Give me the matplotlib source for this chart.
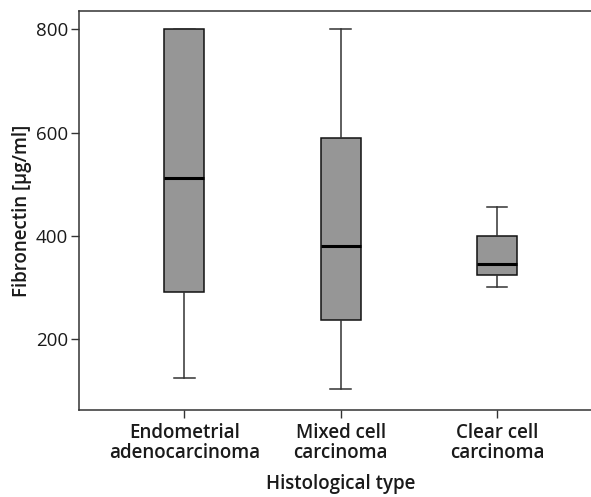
import matplotlib
matplotlib.use("Agg")
import matplotlib.pyplot as plt

categories = ["Endometrial\nadenocarcinoma", "Mixed cell\ncarcinoma", "Clear cell\ncarcinoma"]
whislo = [125, 104, 301]
q1 = [291, 237, 324]
med = [512, 380, 346]
q3 = [800, 589, 400]
whishi = [800, 801, 455]

plt.rcParams['font.family'] = ['Open Sans', 'DejaVu Sans']

fig = plt.figure(figsize=(5.91, 4.97), dpi=100)
ax = fig.add_axes([79.3 / 591, 86.7 / 497, (602 - 79.3) / 591, (410.3 - 10.7) / 497])

stats = []
for i in range(len(categories)):
    stats.append(dict(whislo=whislo[i], q1=q1[i], med=med[i], q3=q3[i],
                      whishi=whishi[i], fliers=[], label=categories[i]))

ax.bxp(stats, positions=[0, 1, 2], widths=0.256, capwidths=0.132,
       patch_artist=True, showfliers=False,
       boxprops=dict(facecolor='#969696', edgecolor='#111111', linewidth=1.1),
       medianprops=dict(color='#000000', linewidth=2.2),
       whiskerprops=dict(color='#333333', linewidth=1.1),
       capprops=dict(color='#333333', linewidth=1.1))

ax.set_xlim(-0.672, 2.672)
ax.set_ylim(62, 836)
ax.set_yticks([200, 400, 600, 800])
ax.set_xticks([0, 1, 2])
ax.set_xticklabels(categories, fontsize=13.5, fontweight='semibold', color='#1a1a1a',
                   linespacing=1.0)
for lab in ax.get_yticklabels():
    lab.set_fontsize(13.5)
    lab.set_color('#1a1a1a')

ax.tick_params(axis='both', direction='out', length=6, width=1.0, color='#333333')
ax.tick_params(axis='y', pad=2)
ax.tick_params(axis='x', pad=3)
for s in ax.spines.values():
    s.set_color('#333333')
    s.set_linewidth(1.1)

ax.set_ylabel("Fibronectin [μg/ml]", fontsize=13.5, fontweight='semibold', color='#1a1a1a', labelpad=3)
ax.set_xlabel("Histological type", fontsize=13.5, fontweight='semibold', color='#1a1a1a', labelpad=8)

fig.savefig("out.png", dpi=100)
